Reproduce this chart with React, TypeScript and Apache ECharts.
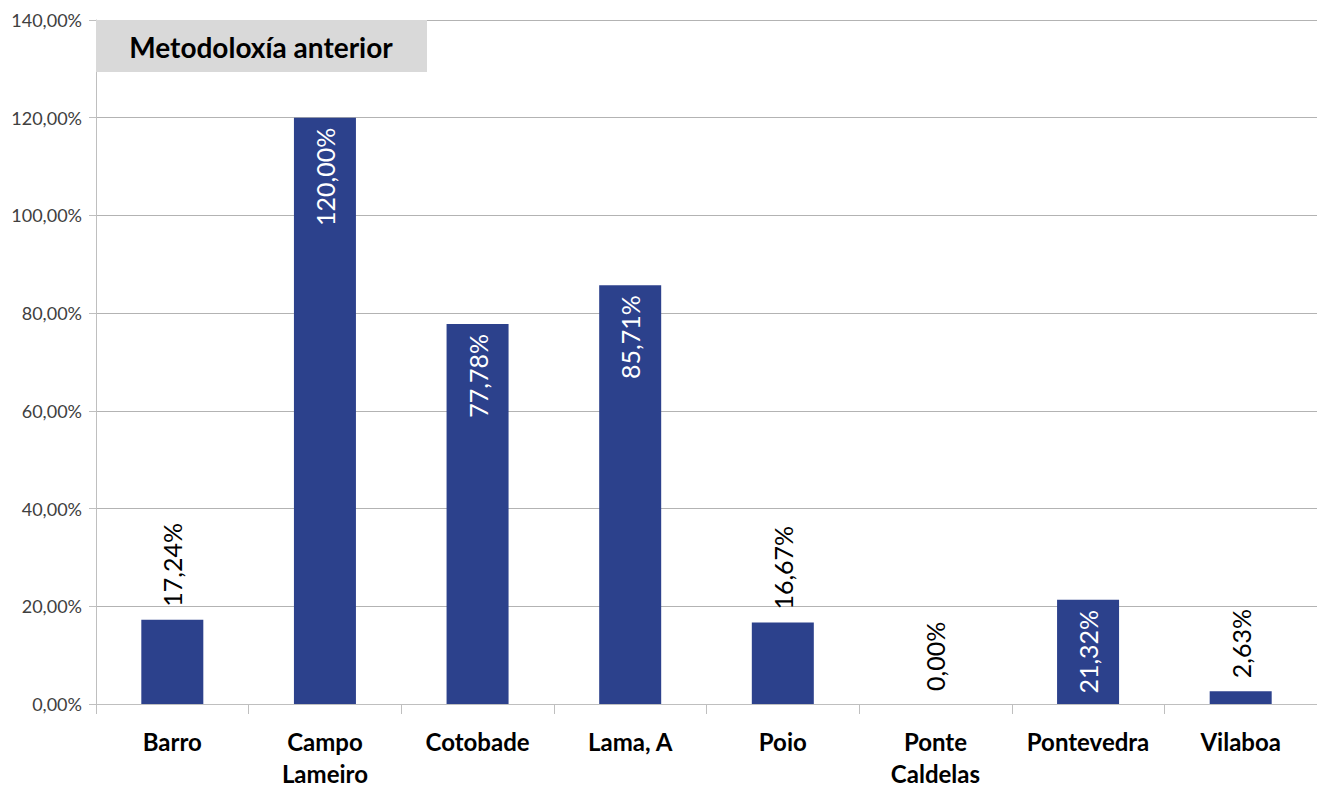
import React, { useEffect, useRef } from "react";
import * as echarts from "echarts";

const categories = ["Barro", "Campo\nLameiro", "Cotobade", "Lama, A", "Poio", "Ponte\nCaldelas", "Pontevedra", "Vilaboa"];
const values = [17.24, 120.0, 77.78, 85.71, 16.67, 0.0, 21.32, 2.63];
const labelInside = [false, true, true, true, false, false, true, false];
const titleText = "Metodoloxía anterior";

const fmt = (v: number) => v.toFixed(2).replace(".", ",") + "%";

export default function App() {
  const ref = useRef<HTMLDivElement>(null);
  useEffect(() => {
    const chart = echarts.init(ref.current!, null, { renderer: "svg" });
    const font = "Lato, 'Open Sans', sans-serif";
    chart.setOption({
      animation: false,
      grid: { left: 96, right: 0, top: 20, bottom: 80, containLabel: false },
      xAxis: {
        type: "category",
        data: categories,
        axisLine: { lineStyle: { color: "#bfbfbf", width: 1 } },
        axisTick: { show: true, length: 10, lineStyle: { color: "#bfbfbf" } },
        axisLabel: {
          color: "#000",
          fontFamily: font,
          fontWeight: "bold",
          fontSize: 24,
          lineHeight: 32,
          margin: 21,
          interval: 0,
        },
      },
      yAxis: {
        type: "value",
        min: 0,
        max: 140,
        interval: 20,
        axisLine: { show: true, lineStyle: { color: "#bfbfbf" } },
        axisTick: { show: true, length: 7, lineStyle: { color: "#bfbfbf" } },
        splitLine: { lineStyle: { color: "#b3b3b3" } },
        axisLabel: {
          color: "#404040",
          fontFamily: font,
          fontSize: 18,
          margin: 14,
          formatter: (v: number) => fmt(v),
        },
      },
      series: [
        {
          type: "bar",
          barWidth: 62,
          itemStyle: { color: "#2c418c" },
          data: values.map((v, i) => ({
            value: v,
            label: labelInside[i]
              ? {
                  show: true,
                  position: "insideTop",
                  rotate: 90,
                  align: "right",
                  verticalAlign: "middle",
                  distance: 10,
                  color: "#fff",
                  fontFamily: font,
                  fontSize: 25,
                  formatter: (p: any) => fmt(p.value),
                }
              : {
                  show: true,
                  position: "top",
                  rotate: 90,
                  align: "left",
                  verticalAlign: "middle",
                  distance: 13,
                  color: "#000",
                  fontFamily: font,
                  fontSize: 25,
                  formatter: (p: any) => fmt(p.value),
                },
          })),
        },
      ],
      graphic: [
        {
          type: "rect",
          left: 96,
          top: 20,
          shape: { width: 331, height: 52 },
          style: { fill: "#d9d9d9" },
          z: 10,
        },
        {
          type: "text",
          x: 261,
          y: 47,
          z: 11,
          style: {
            text: titleText,
            fill: "#000",
            font: "bold 28px " + font,
            textAlign: "center",
            textVerticalAlign: "middle",
          },
        },
      ],
    });
    return () => chart.dispose();
  }, []);
  return (
    <div
      ref={ref}
      style={{ position: "fixed", left: 0, top: 0, width: 1317, height: 789, background: "#fff" }}
    />
  );
}
